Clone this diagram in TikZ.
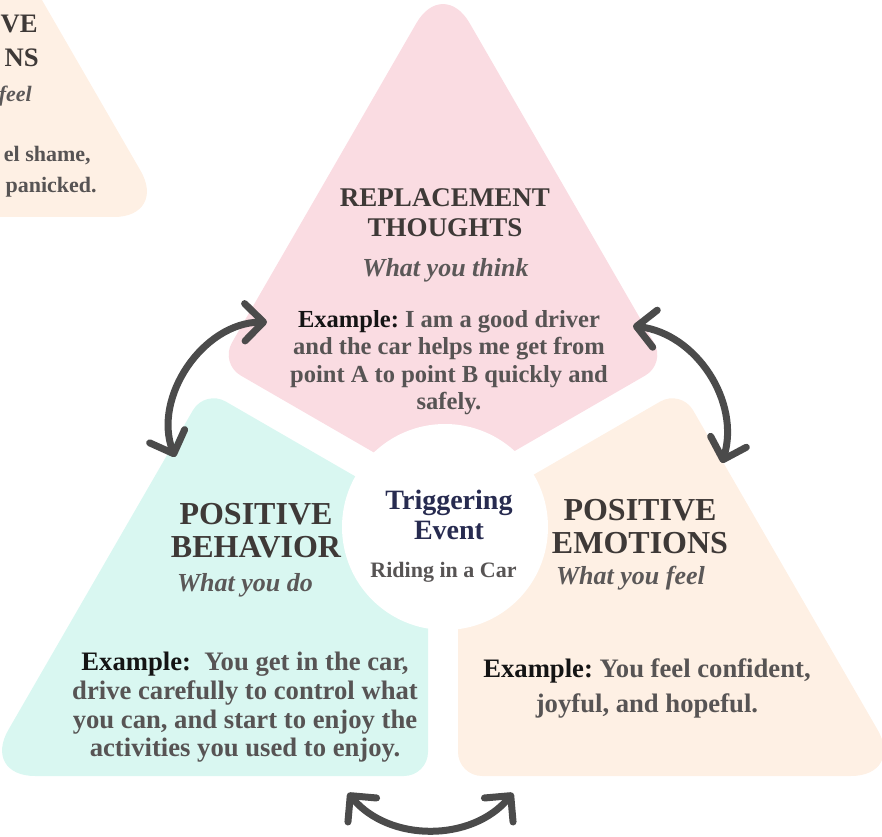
\documentclass[tikz,border=0pt]{standalone}
\usepackage{fontspec}
\setmainfont{Liberation Serif}
\usetikzlibrary{arrows.meta}
\frenchspacing

\definecolor{thoughtpink}{HTML}{FADCE2}
\definecolor{behaviorteal}{HTML}{D9F7F1}
\definecolor{emotionpeach}{HTML}{FEF0E4}
\definecolor{headgray}{HTML}{3E3937}
\definecolor{italgray}{HTML}{5B5858}
\definecolor{bodygray}{HTML}{575454}
\definecolor{exblack}{HTML}{141414}
\definecolor{eventnavy}{HTML}{272B50}
\definecolor{swooshgray}{HTML}{4B4B4B}
\newcommand{\ex}{\textcolor{exblack}{Example:}}

\begin{document}
\begin{tikzpicture}[x=0.75pt,y=-0.75pt,
head/.style={font=\fontsize{24}{24.75}\selectfont\bfseries,text=headgray,align=center,inner sep=0pt},
smallhead/.style={head,font=\fontsize{20.25}{22.5}\selectfont\bfseries},
what/.style={font=\fontsize{19.5}{22}\selectfont\bfseries\itshape,text=italgray,inner sep=0pt,anchor=base},
body/.style={font=\fontsize{20}{21.5}\selectfont\bfseries,text=bodygray,align=center,inner sep=0pt},
swoosh/.style={draw=swooshgray,line width=5.25pt,line cap=round,
    {Straight Barb[round,length=14pt,width=28pt]}-{Straight Barb[round,length=14pt,width=28pt]}}]
\useasboundingbox (0,0) rectangle (882,837);
\clip (0,0) rectangle (882,837);

% corner of the neighbouring triangle
\fill[emotionpeach,rounded corners=18pt,shift={(-737,-559)}] (458,518.4) -- (458,776) -- (681.1,776)
    [rounded corners=40pt] -- (904.3,776) -- (792.7,582.8) [rounded corners=18pt] -- (681.1,389.5) -- cycle;
\node[head,font=\fontsize{20}{22}\selectfont\bfseries,anchor=base east] (prevtop) at (38,33) {VE};
\node[head,font=\fontsize{20}{22}\selectfont\bfseries,anchor=base east] (prevbot) at (39,67) {NS};
\node[what,font=\fontsize{16.5}{20}\selectfont\bfseries\itshape,anchor=base east] (prevwhat) at (32,102) {feel};
\node[body,font=\fontsize{16.5}{20}\selectfont\bfseries,anchor=base east] (prevex1) at (91,162) {el shame,};
\node[body,font=\fontsize{16.5}{20}\selectfont\bfseries,anchor=base east] (prevex2) at (97,193) {panicked.};

% the three parts
\fill[thoughtpink,rounded corners=18pt] (443,492.4) -- (219.9,363.5) -- (331.5,170.3)
    [rounded corners=40pt] -- (443,-23) -- (554.6,170.3) [rounded corners=18pt] -- (666.1,363.5) -- cycle;
\fill[behaviorteal,rounded corners=18pt] (428,518.4) -- (204.9,389.5) -- (93.3,582.8)
    [rounded corners=40pt] -- (-18.3,776) -- (204.9,776) [rounded corners=18pt] -- (428,776) -- cycle;
\fill[emotionpeach,rounded corners=18pt] (458,518.4) -- (458,776) -- (681.1,776)
    [rounded corners=40pt] -- (904.3,776) -- (792.7,582.8) [rounded corners=18pt] -- (681.1,389.5) -- cycle;
\node[circle,fill=white,minimum size=154.5pt,inner sep=0pt] (hub) at (445,527) {};

\node[smallhead] (thoughts) at (445,212.5) {REPLACEMENT\\THOUGHTS};
\node[what] (thinkwhat) at (445.5,277) {What you think};
\node[body,font=\fontsize{18.4}{20.5}\selectfont\bfseries] (thinkex) at (449,362.5)
    {\ex{} I am a good driver\\and the car helps me get from\\point A to point B quickly and\\safely.};

\node[head] (behavior) at (256,531) {POSITIVE\\BEHAVIOR};
\node[what] (dowhat) at (245,592) {What you do};
\node[body] (doex) at (245,707.5)
    {\ex{}~ You get in the car,\\drive carefully to control what\\you can, and start to enjoy the\\activities you used to enjoy.};

\node[head] (emotions) at (640,526.5) {POSITIVE\\EMOTIONS};
\node[what] (feelwhat) at (630.5,585) {What you feel};
\node[body,font=\fontsize{20}{26.25}\selectfont\bfseries] (feelex) at (647,688.5)
    {\ex{} You feel confident,\\joyful, and hopeful.};

\node[font=\fontsize{21}{22.5}\selectfont\bfseries,text=eventnavy,align=center,inner sep=0pt] (trigger) at (449,514.5) {Triggering\\Event};
\node[font=\fontsize{16.5}{18}\selectfont\bfseries,text=bodygray,anchor=base,inner sep=0pt] (ride) at (443.5,578) {Riding in a Car};

\coordinate (tb1) at (267,322);
\coordinate (tb2) at (175,457);
\coordinate (te1) at (633,326);
\coordinate (te2) at (722,463);
\coordinate (be1) at (348,793);
\coordinate (be2) at (513,793);
\draw[swoosh] (tb1) to[bend right=55] (tb2);
\draw[swoosh] (te1) to[bend left=50] (te2);
\draw[swoosh] (be1) to[bend right=50] (be2);
\end{tikzpicture}
\end{document}
